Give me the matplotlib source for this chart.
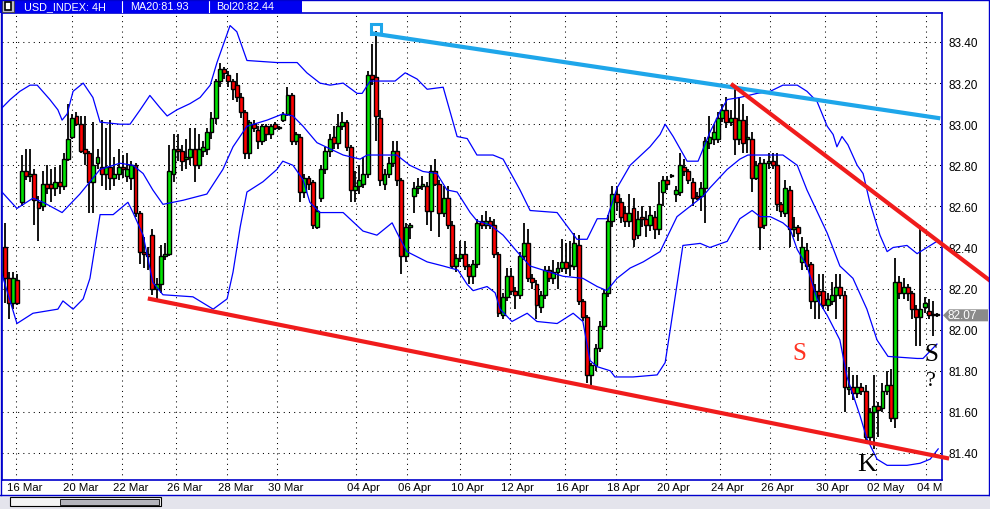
import numpy as np
import matplotlib
matplotlib.use("Agg")
import matplotlib.pyplot as plt
import matplotlib.transforms as mtransforms
from matplotlib.patches import Rectangle, Polygon
from matplotlib.lines import Line2D

plt.rcParams['font.family'] = ['Liberation Sans', 'DejaVu Sans']

# USD_INDEX 4H bars
opens = [
    82.40, 82.25, 82.13, 82.24, 82.62, 82.77, 82.75, 82.76, 82.62, 82.60,
    82.71, 82.71, 82.69, 82.72, 82.70, 82.83, 82.94, 83.04, 83.00, 82.88,
    82.86, 82.72, 82.81, 82.79, 82.76, 82.79, 82.74, 82.76, 82.79, 82.75,
    82.74, 82.80, 82.57, 82.38, 82.37, 82.46, 82.20, 82.22, 82.36, 82.37,
    82.76, 82.88, 82.87, 82.83, 82.84, 82.88, 82.80, 82.87, 82.88, 82.96,
    83.03, 83.21, 83.27, 83.24, 83.21, 83.19, 83.13, 83.06, 82.86, 83.00,
    82.97, 82.92, 82.99, 82.95, 83.00, 82.98, 83.02, 83.05, 83.14, 82.92,
    82.94, 82.67, 82.74, 82.72, 82.50, 82.64, 82.78, 82.87, 82.94, 82.91,
    82.99, 83.01, 82.89, 82.68, 82.70, 82.71, 82.76, 83.24, 83.23, 83.03,
    82.71, 82.76, 82.81, 82.87, 82.73, 82.36, 82.50, 82.65, 82.69, 82.70,
    82.70, 82.58, 82.77, 82.71, 82.57, 82.64, 82.51, 82.31, 82.35, 82.37,
    82.31, 82.26, 82.32, 82.53, 82.51, 82.53, 82.51, 82.37, 82.07, 82.16,
    82.26, 82.19, 82.17, 82.36, 82.42, 82.25, 82.22, 82.11, 82.17, 82.29,
    82.25, 82.28, 82.30, 82.33, 82.31, 82.31, 82.41, 82.14, 82.06, 81.78,
    81.83, 81.91, 82.02, 82.18, 82.53, 82.66, 82.62, 82.57, 82.53, 82.59,
    82.46, 82.55, 82.54, 82.51, 82.55, 82.49, 82.67, 82.73, 82.75, 82.66,
    82.67, 82.79, 82.77, 82.72, 82.65, 82.65, 82.69, 82.91, 82.93, 82.93,
    83.03, 83.07, 83.01, 83.03, 82.93, 83.02, 82.93, 82.93, 82.74, 82.81,
    82.51, 82.81, 82.82, 82.80, 82.61, 82.57, 82.68, 82.49, 82.50, 82.33,
    82.39, 82.32, 82.14, 82.19, 82.19, 82.12, 82.14, 82.17, 82.21, 82.17,
    81.71, 81.72, 81.69, 81.72, 81.70, 81.48, 81.60, 81.63, 81.62, 81.70,
    81.73, 81.57, 82.23, 82.18, 82.21, 82.18, 82.10, 82.06, 82.11, 82.09,
    82.07, 82.07,
]
highs = [
    82.52, 82.28, 82.28, 82.27, 82.85, 82.88, 82.88, 82.78, 82.65, 82.77,
    82.80, 82.78, 82.79, 82.80, 82.86, 83.10, 83.05, 83.06, 83.04, 83.04,
    82.87, 83.01, 82.88, 83.02, 82.98, 83.02, 82.84, 82.88, 82.85, 82.86,
    82.82, 82.81, 82.58, 82.45, 82.40, 82.49, 82.25, 82.41, 82.42, 82.90,
    82.95, 82.95, 82.90, 82.93, 82.98, 82.98, 82.95, 82.92, 82.98, 83.06,
    83.22, 83.30, 83.28, 83.26, 83.22, 83.25, 83.15, 83.07, 83.02, 83.02,
    82.99, 83.00, 83.00, 83.00, 83.01, 82.99, 83.06, 83.18, 83.15, 82.96,
    82.95, 82.76, 82.75, 82.73, 82.60, 82.80, 82.89, 82.95, 82.99, 83.05,
    83.06, 83.02, 82.90, 82.77, 82.80, 82.84, 83.26, 83.39, 83.455, 83.07,
    82.78, 82.84, 82.92, 82.92, 82.74, 82.52, 82.52, 82.72, 82.74, 82.75,
    82.72, 82.80, 82.83, 82.73, 82.70, 82.70, 82.53, 82.37, 82.43, 82.43,
    82.32, 82.34, 82.54, 82.56, 82.58, 82.55, 82.54, 82.38, 82.18, 82.30,
    82.30, 82.21, 82.38, 82.52, 82.49, 82.27, 82.24, 82.19, 82.31, 82.31,
    82.34, 82.33, 82.44, 82.42, 82.43, 82.47, 82.46, 82.15, 82.07, 81.84,
    81.93, 82.04, 82.20, 82.56, 82.70, 82.70, 82.64, 82.60, 82.66, 82.64,
    82.58, 82.60, 82.58, 82.60, 82.58, 82.72, 82.75, 82.75, 82.76, 82.70,
    82.86, 82.83, 82.78, 82.74, 82.67, 82.72, 82.94, 83.04, 83.00, 83.06,
    83.10, 83.13, 83.07, 83.19, 83.13, 83.10, 83.04, 82.96, 82.82, 82.84,
    82.83, 82.86, 82.86, 82.86, 82.62, 82.73, 82.70, 82.55, 82.51, 82.45,
    82.42, 82.33, 82.22, 82.27, 82.27, 82.18, 82.23, 82.27, 82.27, 82.19,
    81.82, 81.78, 81.78, 81.74, 81.73, 81.62, 81.78, 81.65, 81.74, 81.80,
    81.81, 82.35, 82.26, 82.25, 82.22, 82.19, 82.12, 82.51, 82.16, 82.15,
    82.14, 82.08,
]
lows = [
    82.13, 82.05, 82.10, 82.12, 82.60, 82.73, 82.72, 82.51, 82.43, 82.58,
    82.66, 82.62, 82.65, 82.66, 82.68, 82.82, 82.93, 82.99, 82.86, 82.80,
    82.57, 82.57, 82.78, 82.70, 82.68, 82.68, 82.70, 82.73, 82.74, 82.72,
    82.68, 82.55, 82.32, 82.30, 82.29, 82.17, 82.15, 82.18, 82.34, 82.36,
    82.72, 82.82, 82.77, 82.78, 82.80, 82.72, 82.78, 82.84, 82.85, 82.93,
    83.00, 83.18, 83.22, 83.18, 83.12, 83.11, 83.03, 82.83, 82.83, 82.96,
    82.88, 82.90, 82.92, 82.93, 82.97, 82.97, 83.01, 83.04, 82.90, 82.90,
    82.62, 82.64, 82.68, 82.49, 82.49, 82.62, 82.76, 82.84, 82.88, 82.88,
    82.97, 82.87, 82.62, 82.62, 82.66, 82.69, 82.74, 83.19, 82.92, 82.70,
    82.68, 82.74, 82.79, 82.70, 82.27, 82.33, 82.44, 82.57, 82.66, 82.68,
    82.51, 82.48, 82.70, 82.45, 82.55, 82.49, 82.30, 82.28, 82.33, 82.29,
    82.22, 82.22, 82.30, 82.49, 82.49, 82.49, 82.35, 82.06, 82.05, 82.14,
    82.17, 82.10, 82.15, 82.34, 82.23, 82.20, 82.05, 82.08, 82.15, 82.23,
    82.22, 82.20, 82.28, 82.27, 82.26, 82.29, 82.12, 82.04, 81.74, 81.73,
    81.80, 81.89, 82.00, 82.16, 82.50, 82.58, 82.52, 82.50, 82.50, 82.40,
    82.44, 82.50, 82.45, 82.48, 82.44, 82.46, 82.60, 82.68, 82.74, 82.62,
    82.65, 82.75, 82.71, 82.60, 82.63, 82.58, 82.52, 82.88, 82.90, 82.91,
    83.01, 82.98, 82.99, 82.85, 82.90, 82.86, 82.86, 82.67, 82.73, 82.39,
    82.49, 82.78, 82.78, 82.58, 82.55, 82.55, 82.40, 82.45, 82.43, 82.29,
    82.29, 82.10, 82.05, 82.05, 82.10, 82.09, 82.12, 82.05, 82.15, 81.60,
    81.68, 81.66, 81.67, 81.68, 81.46, 81.45, 81.42, 81.48, 81.60, 81.68,
    81.55, 81.52, 82.15, 82.15, 82.14, 82.05, 81.92, 81.92, 82.08, 82.05,
    81.97, 82.06,
]
closes = [
    82.25, 82.13, 82.25, 82.13, 82.77, 82.75, 82.76, 82.63, 82.59, 82.71,
    82.69, 82.69, 82.72, 82.70, 82.83, 82.93, 83.03, 83.00, 82.87, 82.86,
    82.72, 82.80, 82.84, 82.76, 82.79, 82.74, 82.76, 82.79, 82.78, 82.78,
    82.80, 82.57, 82.38, 82.37, 82.36, 82.20, 82.22, 82.36, 82.37, 82.77,
    82.88, 82.87, 82.82, 82.84, 82.88, 82.80, 82.88, 82.89, 82.96, 83.03,
    83.21, 83.27, 83.25, 83.21, 83.17, 83.13, 83.06, 82.86, 83.01, 82.98,
    82.92, 82.99, 82.95, 82.99, 82.98, 82.98, 83.05, 83.14, 82.92, 82.95,
    82.67, 82.74, 82.71, 82.51, 82.58, 82.78, 82.87, 82.93, 82.91, 82.99,
    83.01, 82.89, 82.68, 82.70, 82.73, 82.76, 83.24, 83.22, 83.04, 82.73,
    82.76, 82.81, 82.87, 82.73, 82.36, 82.50, 82.51, 82.69, 82.70, 82.71,
    82.58, 82.77, 82.71, 82.57, 82.64, 82.51, 82.31, 82.35, 82.37, 82.31,
    82.26, 82.32, 82.52, 82.51, 82.53, 82.51, 82.37, 82.08, 82.16, 82.26,
    82.19, 82.17, 82.36, 82.42, 82.25, 82.23, 82.12, 82.17, 82.29, 82.25,
    82.28, 82.30, 82.33, 82.30, 82.31, 82.42, 82.14, 82.06, 81.78, 81.83,
    81.91, 82.02, 82.18, 82.53, 82.66, 82.62, 82.55, 82.53, 82.57, 82.44,
    82.54, 82.54, 82.51, 82.56, 82.49, 82.61, 82.73, 82.71, 82.75, 82.68,
    82.80, 82.77, 82.73, 82.64, 82.64, 82.69, 82.92, 82.94, 82.96, 83.03,
    83.07, 83.01, 83.03, 82.93, 83.02, 82.91, 82.94, 82.74, 82.80, 82.50,
    82.81, 82.82, 82.80, 82.61, 82.58, 82.69, 82.49, 82.50, 82.47, 82.40,
    82.31, 82.14, 82.19, 82.17, 82.12, 82.15, 82.17, 82.21, 82.17, 81.72,
    81.72, 81.69, 81.72, 81.70, 81.48, 81.60, 81.63, 81.61, 81.70, 81.73,
    81.57, 82.23, 82.18, 82.21, 82.18, 82.10, 82.06, 82.10, 82.13, 82.07,
    82.07, 82.07,
]

# Bollinger(20) lines, vertices read as (bar index, price)
upper_x = [-1.1, 1.3, 3.6, 6.0, 7.7, 10.7, 12.6, 13.6, 14.8, 16.2, 18.6, 20.9, 22.6,
           27.3, 29.7, 32.1, 34.4, 36.8, 38.5, 40.8, 43.9, 46.3, 48.7, 50.3, 53.4,
           55.0, 57.4, 64.5, 69.3, 71.6, 74.7, 77.1, 80.2, 83.5, 84.7, 86.6, 91.3,
           92.5, 94.9, 97.7, 100.1, 103.9, 107.2, 109.6, 111.9, 115.7, 118.1, 122.1,
           124.5, 130.9, 135.6, 138.0, 140.4, 142.7, 145.1, 148.2, 152.9, 155.3,
           156.5, 158.4, 161.7, 164.3, 167.1, 169.5, 171.2, 174.2, 178.3, 181.4,
           184.4, 187.8, 190.1, 192.5, 194.9, 196.3, 197.2, 198.4, 199.8, 202.0,
           203.4, 205.0, 207.4, 209.1, 210.5, 213.8, 216.2, 220.9]
upper_y = [83.07, 83.12, 83.16, 83.19, 83.19, 83.12, 83.07, 83.02, 83.05, 83.16, 83.20,
           83.13, 83.01, 83.00, 83.00, 83.07, 83.14, 83.08, 83.04, 83.07, 83.10,
           83.13, 83.19, 83.30, 83.48, 83.45, 83.31, 83.30, 83.30, 83.25, 83.20,
           83.19, 83.20, 83.15, 83.15, 83.21, 83.21, 83.21, 83.25, 83.22, 83.17,
           83.18, 82.94, 82.93, 82.85, 82.85, 82.83, 82.68, 82.58, 82.57, 82.44,
           82.44, 82.54, 82.54, 82.69, 82.80, 82.89, 82.95, 83.00, 82.94, 82.82,
           82.82, 82.96, 83.06, 83.12, 83.13, 83.15, 83.16, 83.19, 83.19, 83.16,
           83.11, 82.99, 82.95, 82.89, 82.94, 82.90, 82.80, 82.76, 82.62, 82.46,
           82.38, 82.40, 82.41, 82.37, 82.43]
mid_x = [-1.1, 2.9, 6.7, 9.1, 13.6, 17.8, 22.6, 27.3, 30.4, 32.8, 35.1, 37.5, 42.3,
         47.9, 51.7, 54.1, 57.4, 62.2, 65.9, 68.3, 70.7, 74.0, 77.1, 80.2, 84.2,
         85.9, 91.3, 92.9, 96.0, 99.1, 102.4, 104.8, 107.2, 110.3, 111.9, 115.0,
         118.1, 121.4, 124.5, 127.6, 132.3, 137.0, 140.4, 142.7, 145.1, 148.2,
         151.3, 155.3, 159.3, 162.4, 165.5, 167.1, 171.2, 174.2, 176.1, 184.4,
         187.8, 190.1, 194.9, 197.9, 201.0, 204.3, 206.7, 209.3, 216.2, 217.6, 220.9]
mid_y = [82.68, 82.59, 82.64, 82.62, 82.57, 82.66, 82.78, 82.81, 82.80, 82.76, 82.68,
         82.61, 82.63, 82.66, 82.78, 82.89, 82.99, 83.02, 83.05, 83.04, 82.99,
         82.91, 82.88, 82.85, 82.83, 82.85, 82.85, 82.85, 82.80, 82.77, 82.76,
         82.68, 82.67, 82.57, 82.53, 82.51, 82.46, 82.38, 82.31, 82.29, 82.26,
         82.25, 82.21, 82.19, 82.25, 82.30, 82.33, 82.38, 82.55, 82.60, 82.65,
         82.69, 82.78, 82.83, 82.85, 82.85, 82.80, 82.68, 82.47, 82.31, 82.25,
         82.10, 81.95, 81.87, 81.86, 81.86, 81.93]
lower_x = [-1.1, 2.9, 6.7, 12.6, 13.8, 16.2, 18.6, 20.2, 22.6, 25.7, 29.2, 30.4, 32.8,
           35.1, 37.5, 44.6, 49.4, 52.7, 54.1, 55.8, 57.4, 61.2, 64.5, 65.9, 68.3,
           70.7, 72.3, 74.7, 80.2, 84.9, 88.2, 91.8, 93.0, 95.3, 100.1, 103.9, 107.4,
           109.6, 111.0, 114.3, 116.2, 117.4, 120.2, 123.8, 126.1, 130.9, 134.7,
           137.0, 138.7, 140.4, 143.5, 144.6, 148.9, 154.6, 156.5, 157.7, 160.7,
           164.8, 167.1, 171.2, 174.2, 177.1, 179.0, 181.4, 184.4, 186.1, 187.8,
           190.1, 192.5, 194.9, 197.9, 199.6, 202.7, 204.3, 206.7, 209.1, 213.8,
           216.9, 219.3, 221.2]
lower_y = [82.30, 82.03, 82.08, 82.10, 82.14, 82.10, 82.15, 82.25, 82.56, 82.56, 82.62,
           82.57, 82.46, 82.23, 82.17, 82.16, 82.10, 82.15, 82.28, 82.50, 82.67,
           82.72, 82.78, 82.82, 82.80, 82.73, 82.62, 82.57, 82.57, 82.48, 82.46,
           82.52, 82.47, 82.38, 82.33, 82.31, 82.29, 82.22, 82.19, 82.21, 82.18,
           82.10, 82.04, 82.08, 82.04, 82.03, 82.08, 82.04, 81.85, 81.82, 81.80,
           81.77, 81.77, 81.78, 81.84, 82.00, 82.41, 82.42, 82.40, 82.43, 82.54,
           82.58, 82.55, 82.55, 82.52, 82.49, 82.39, 82.31, 82.15, 82.07, 81.95,
           81.77, 81.58, 81.47, 81.37, 81.34, 81.34, 81.35, 81.37, 81.42]

# hand-drawn trend lines (bar index, price)
cyan_x, cyan_y = [87.7, 221.2], [83.44, 83.03]
anchor_x, anchor_y = 88.1, 83.465
red_top_x, red_top_y = [172.5, 233.4], [83.19, 82.24]
red_bot_x, red_bot_y = [34.4, 223.3], [82.15, 81.375]

# annotations (bar index, price)
notes = [("S", 188.2, 81.885, "#ff3322", 18),
         ("S", 219.5, 81.88, "black", 18),
         ("?", 219.5, 81.755, "black", 16),
         ("K", 204.3, 81.345, "black", 19)]

date_ticks = [2.7, 15.9, 27.8, 40.6, 52.7, 64.5, 83.2, 95.3, 107.9, 119.7,
              132.8, 144.9, 156.7, 169.5, 181.4, 194.4, 206.5, 218.3]
date_labels = ["16 Mar", "20 Mar", "22 Mar", "26 Mar", "28 Mar", "30 Mar",
               "04 Apr", "06 Apr", "10 Apr", "12 Apr", "16 Apr", "18 Apr",
               "20 Apr", "24 Apr", "26 Apr", "30 Apr", "02 May", "04 May"]
price_ticks = [81.40, 81.60, 81.80, 82.00, 82.20, 82.40, 82.60, 82.80, 83.00, 83.20, 83.40]

W, H = 990, 510
FRAME = "#0000cc"

fig = plt.figure(figsize=(W / 100, H / 100), dpi=100)
fig.patch.set_facecolor("white")
ax = fig.add_axes([2 / W, 29 / H, 940 / W, 467 / H])
ax.set_xlim(-0.64, 222.1)
ax.set_ylim(81.2686, 83.5411)

# candles
idx = np.arange(len(opens))
o = np.array(opens)
c = np.array(closes)
colors = np.where(c >= o, "#00e400", "#ff0000")
ax.vlines(idx, lows, highs, color="black", lw=1.3, zorder=2)
ax.bar(idx, np.maximum(np.abs(c - o), 0.004), bottom=np.minimum(o, c), width=0.92,
       color=colors, edgecolor="black", linewidth=1.0, zorder=3)

# bollinger bands
for bx, by in [(upper_x, upper_y), (mid_x, mid_y), (lower_x, lower_y)]:
    ax.plot(bx, by, color="#0000ff", lw=0.9, zorder=4)

# trend lines
ax.plot(cyan_x, cyan_y, color="#1ea6ea", lw=3.0, zorder=5)
ax.plot([anchor_x], [anchor_y], marker="s", ms=7.5, mfc="none", mec="#1ea6ea", mew=2.2, zorder=6)
ax.plot(red_top_x, red_top_y, color="#f01c1c", lw=3.0, zorder=5, clip_on=False)
ax.plot(red_bot_x, red_bot_y, color="#f01c1c", lw=3.0, zorder=5, clip_on=False)

for s, x, y, col, fs in notes:
    ax.text(x, y, s, color=col, fontsize=fs, family="Liberation Serif",
            ha="center", va="center", zorder=7)

# grid, ticks, frame
ax.set_xticks(date_ticks)
ax.set_yticks(price_ticks)
ax.grid(True, color="black", linestyle=(0, (1, 4)), linewidth=0.75)
ax.tick_params(axis="x", length=0, labelbottom=False)
ax.yaxis.tick_right()
ax.set_yticklabels([f"{p:.2f}" for p in price_ticks])
ax.tick_params(axis="y", length=0, pad=4.5, labelsize=8.5)
for sp in ax.spines.values():
    sp.set_color(FRAME)
    sp.set_linewidth(1.2)

# date labels, clipped at the right edge of the plot like the original
clip = mtransforms.TransformedBbox(
    mtransforms.Bbox.unit(),
    mtransforms.blended_transform_factory(ax.transAxes, fig.transFigure))
for t_idx, lab in zip(date_ticks, date_labels):
    t = ax.annotate(lab, xy=(t_idx, 0), xycoords=ax.get_xaxis_transform(),
                    xytext=(-9, -7), textcoords="offset pixels", ha="left",
                    va="center", fontsize=8.2, annotation_clip=False)
    t.set_clip_on(True)
    t.set_clip_box(clip)

# last price tag
xr, yr = ax.transData.transform((ax.get_xlim()[1], closes[-1]))
ident = mtransforms.IdentityTransform()
fig.add_artist(Polygon([(xr + 1, yr), (xr + 7, yr + 6), (xr + 46, yr + 6),
                        (xr + 46, yr - 6), (xr + 7, yr - 6)], closed=True,
                       transform=ident, fc="#8a8a8a", ec="none", zorder=6))
fig.text(xr + 6, yr, f"{closes[-1]:.2f}", transform=ident, color="white",
         fontsize=8.5, va="center", ha="left", zorder=7)

# title bar
fig.add_artist(Rectangle((0, 1 - 14 / H), 302 / W, 14 / H, transform=fig.transFigure,
                         fc="#0000f0", ec="none", zorder=1))
fig.add_artist(Rectangle((2 / W, 1 - 13 / H), 12 / W, 12 / H, transform=fig.transFigure,
                         fc="#c0c0c0", ec="#404040", lw=0.6, zorder=2))
fig.add_artist(Rectangle((5 / W, 1 - 11 / H), 6 / W, 8 / H, transform=fig.transFigure,
                         fc="white", ec="black", lw=1.2, zorder=3))
for sx in (122, 209):
    fig.add_artist(Line2D([sx / W, sx / W], [1 - 13 / H, 1 - 1 / H], color="white",
                          lw=0.8, transform=fig.transFigure, zorder=2))
for tx, s in [(24, "USD_INDEX: 4H"), (130, "MA20:81.93"), (216, "Bol20:82.44")]:
    fig.text(tx / W, 1 - 7.5 / H, s, color="white", fontsize=7.8, va="center", zorder=3)

# window frame and bottom strip
fig.add_artist(Rectangle((0, 0), 1, 14 / H, transform=fig.transFigure,
                         fc="#e4e4ec", ec="none", zorder=1))
fig.add_artist(Rectangle((10 / W, 3 / H), 151 / W, 9 / H, transform=fig.transFigure,
                         fc="#f4f4f4", ec="black", lw=0.8, zorder=2))
fig.add_artist(Rectangle((60 / W, 4.5 / H), 99 / W, 6 / H, transform=fig.transFigure,
                         fc="#b4b4bc", ec="black", lw=0.6, zorder=3))
for xs, ys in [([0, 1], [1 - 0.5 / H, 1 - 0.5 / H]),
               ([0, 1], [14.5 / H, 14.5 / H]),
               ([988.5 / W, 988.5 / W], [14.5 / H, 1]),
               ([0.5 / W, 0.5 / W], [14.5 / H, 1])]:
    fig.add_artist(Line2D(xs, ys, color=FRAME, lw=1.0, transform=fig.transFigure, zorder=2))

fig.savefig("out.png", dpi=100, facecolor="white")
